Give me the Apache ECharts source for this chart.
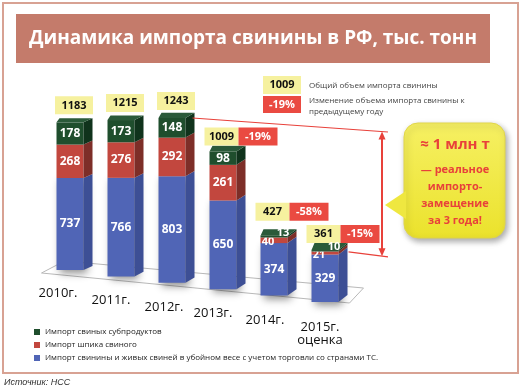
<!DOCTYPE html>
<html><head><meta charset="utf-8">
<script src="https://cdn.jsdelivr.net/npm/echarts@6/dist/echarts.min.js"></script>
<style>html,body{margin:0;padding:0;background:#fff}#c{width:522px;height:389px}</style>
</head><body><div id="c"></div>
<script>
// ---- data ----
const categories = ['2010г.', '2011г.', '2012г.', '2013г.', '2014г.', '2015г.\nоценка'];
const porkLive = [737, 766, 803, 650, 374, 329];
const fatback = [268, 276, 292, 261, 40, 21];
const offal = [178, 173, 148, 98, 13, 10];
const totals = [1183, 1215, 1243, 1009, 427, 361];
const changes = [null, null, null, -19, -58, -15];
const seriesNames = [
  'Импорт свиных субпродуктов',
  'Импорт шпика свиного',
  'Импорт свинины и живых свиней в убойном весе с учетом торговли со странами ТС.'
];

// ---- style ----
const FONT = '"Open Sans", "DejaVu Sans", sans-serif';
const DY = 6.4, KBASE = 0.96, KSTEP = 0.03;   // pseudo-perspective
const BW = 27, DX = 9;
const dzOf = i => 4 + 0.6 * i;
const labelShift = [-12, -10, -8, -10, -9, -5];
const boxGap = [8, 8, 8, 6, 15, 7];
const layerStyle = [
  { front: '#5065b6', side: '#3d4f95', top: '#6275c2' },
  { front: '#c2473e', side: '#7d2e28', top: '#d05a50' },
  { front: '#1f4e2d', side: '#10331c', top: '#2a5a39' }
];

// build layer data [index, start, end, value]
const layerVals = [porkLive, fatback, offal];
const layerData = [[], [], []];
categories.forEach((c, i) => {
  let acc = 0;
  for (let L = 0; L < 3; L++) {
    const v = layerVals[L][i];
    layerData[L].push([i, acc, acc + v, v]);
    acc += v;
  }
});

function projY(baseY, cY, i) {
  const k = KBASE + KSTEP * i;
  return baseY + DY * i - (baseY - cY) * k;
}

function txt(text, x, y, fill, font, align) {
  return {
    type: 'text', z2: 10,
    style: {
      text: text, x: x, y: y, fill: fill, font: font,
      align: align || 'center', verticalAlign: 'middle',
      textAlign: align || 'center', textVerticalAlign: 'middle'
    }
  };
}

function makeRender(L) {
  return function (params, api) {
    const i = api.value(0), s = api.value(1), e = api.value(2), v = api.value(3);
    const b = api.coord([i, 0]);
    const cx = b[0];
    const yb = projY(b[1], api.coord([i, s])[1], i);
    const yt = projY(b[1], api.coord([i, e])[1], i);
    const x0 = cx - BW / 2;
    const DZ = dzOf(i);
    const st = layerStyle[L];
    const children = [];
    const front = {
      type: 'rect', shape: { x: x0, y: yt, width: BW, height: yb - yt },
      style: { fill: st.front }
    };
    if (L === 0) {
      front.style.shadowBlur = 8; front.style.shadowColor = 'rgba(0,0,0,0.45)';
      front.style.shadowOffsetX = 3; front.style.shadowOffsetY = 3;
    }
    children.push(front);
    children.push({
      type: 'polygon',
      shape: { points: [[x0 + BW, yt], [x0 + BW + DX, yt - DZ], [x0 + BW + DX, yb - DZ], [x0 + BW, yb]] },
      style: { fill: st.side }
    });
    if (L === 2) {
      children.push({
        type: 'polygon',
        shape: { points: [[x0, yt], [x0 + BW, yt], [x0 + BW + DX, yt - DZ], [x0 + 3, yt - DZ]] },
        style: { fill: st.top }
      });
    }
    const h = yb - yt;
    let lx = cx, ly = (yt + yb) / 2, fs = 12;
    if (h < 12) {
      fs = 11;
      if (L === 1) { lx = cx - 6; ly = (yt + yb) / 2 + 2; }
      if (L === 2) { lx = cx + 9; ly = yt - DZ / 2; }
    }
    children.push(txt(String(v), lx, ly, '#fff', 'bold ' + fs + 'px ' + FONT));
    if (L === 2) {
      const bh = 18, bb = yt - boxGap[i];
      const ch = changes[i];
      if (ch === null) {
        const w = 38, lx0 = cx + 4 - w / 2;
        children.push({ type: 'rect', shape: { x: lx0, y: bb - bh, width: w, height: bh }, style: { fill: '#f6f19f' } });
        children.push(txt(String(totals[i]), lx0 + w / 2, bb - bh / 2, '#111', 'bold 11px ' + FONT));
      } else {
        const w1 = 34, w2 = 39, lx0 = x0 - 5;
        children.push({ type: 'rect', shape: { x: lx0, y: bb - bh, width: w1, height: bh }, style: { fill: '#f6f19f' } });
        children.push(txt(String(totals[i]), lx0 + w1 / 2, bb - bh / 2, '#111', 'bold 11px ' + FONT));
        children.push({ type: 'rect', shape: { x: lx0 + w1, y: bb - bh, width: w2, height: bh }, style: { fill: '#ea4a41' } });
        children.push(txt(ch + '%', lx0 + w1 + w2 / 2, bb - bh / 2, '#fff', 'bold 11px ' + FONT));
      }
    }
    return { type: 'group', children: children };
  };
}

const chart = echarts.init(document.getElementById('c'), null, { renderer: 'canvas' });

const rich = {};
categories.forEach((c, i) => {
  rich['t' + i] = { padding: [DY * i * 1.05, -labelShift[i] * 2, 0, 0], fontSize: 13, color: '#111', fontFamily: FONT };
  rich['n' + i] = { padding: [0, -labelShift[i] * 2, 0, 0], fontSize: 13, color: '#111', fontFamily: FONT, lineHeight: 14 };
});

chart.setOption({
  animation: false,
  grid: { left: 44.5, right: 171.5, top: 62, bottom: 119 },
  xAxis: {
    type: 'category', data: categories,
    axisLine: { show: false }, axisTick: { show: false },
    axisLabel: {
      margin: 17, interval: 0,
      formatter: function (val, idx) {
        return val.split('\n').map((p, k) => '{' + (k === 0 ? 't' : 'n') + idx + '|' + p + '}').join('\n');
      },
      rich: rich
    }
  },
  yAxis: { type: 'value', min: 0, max: 1600, show: false },
  legend: {
    orient: 'vertical', left: 29, top: 323, itemGap: 5, itemWidth: 6, itemHeight: 6,
    icon: 'rect', textStyle: { fontSize: 8, color: '#222', fontFamily: FONT },
    data: [seriesNames[0], seriesNames[1], seriesNames[2]]
  },
  series: [
    { type: 'custom', name: seriesNames[2], renderItem: makeRender(0), data: layerData[0], itemStyle: { color: layerStyle[0].front }, z: 3 },
    { type: 'custom', name: seriesNames[1], renderItem: makeRender(1), data: layerData[1], itemStyle: { color: layerStyle[1].front }, z: 4 },
    { type: 'custom', name: seriesNames[0], renderItem: makeRender(2), data: layerData[2], itemStyle: { color: layerStyle[2].front }, z: 5 }
  ]
});

// ---- annotations computed from the scales ----
function barTop(i, v) {
  const b = chart.convertToPixel({ gridIndex: 0 }, [i, 0]);
  const c = chart.convertToPixel({ gridIndex: 0 }, [i, v]);
  return [b[0], projY(b[1], c[1], i)];
}
const p0 = barTop(0, 0), p5 = barTop(5, 0);
const x00 = p0[0] - BW / 2, x05 = p5[0] - BW / 2;
const t3 = barTop(2, totals[2]);
const t6 = barTop(5, totals[5]);
const RED = '#e8413a';
const ax = 382, lineEnd = 388;
const up0 = [t3[0] + BW / 2 + DX - 2, t3[1]], up1 = [lineEnd, t3[1] + 14];
const lo0 = [t6[0] + BW / 2 + DX + 1, t6[1] + 2], lo1 = [lineEnd, t6[1] + 7];
const yAt = (a, b, x) => a[1] + (b[1] - a[1]) * (x - a[0]) / (b[0] - a[0]);
const ya = yAt(up0, up1, ax), yb = yAt(lo0, lo1, ax);

function gtxt(text, x, y, fill, font, align, z) {
  return { type: 'text', z: z || 1, style: { text: text, x: x, y: y, fill: fill, font: font, align: align || 'center', verticalAlign: 'middle', textAlign: align || 'center', textVerticalAlign: 'middle' } };
}
const bubbleFill = { type: 'linear', x: 0, y: 0, x2: 0, y2: 1, colorStops: [{ offset: 0, color: '#f6f063' }, { offset: 1, color: '#ebe22c' }] };

const graphics = [
  { type: 'rect', z: -10, shape: { x: 3, y: 3, width: 515, height: 370 }, style: { fill: 'none', stroke: '#d8a293', lineWidth: 2 } },
  { type: 'rect', shape: { x: 16, y: 14, width: 474, height: 49 }, style: { fill: '#c47b6b' } },
  gtxt('Динамика импорта свинины в РФ, тыс. тонн', 253, 39, '#fff', 'bold 19px ' + FONT),
  // floor
  { type: 'polygon', z: 0, shape: { points: [[x00 - 15, p0[1] + 3], [x00 + 8, p0[1] - 9], [x05 + 52, p5[1] - 14], [x05 + 38, p5[1] + 1]] }, style: { fill: '#fff', stroke: '#b8b8b8', lineWidth: 1 } },
  // explanation legend
  { type: 'rect', shape: { x: 263, y: 76, width: 38, height: 18 }, style: { fill: '#f6f19f' } },
  gtxt('1009', 282, 85, '#111', 'bold 11px ' + FONT),
  { type: 'rect', shape: { x: 263, y: 96, width: 38, height: 17 }, style: { fill: '#ea4a41' } },
  gtxt('-19%', 282, 104.5, '#fff', 'bold 11px ' + FONT),
  gtxt('Общий объем импорта свинины', 309, 86, '#444', '8px ' + FONT, 'left'),
  gtxt('Изменение объема импорта свинины к', 309, 101, '#444', '8px ' + FONT, 'left'),
  gtxt('предыдущему году', 309, 112, '#444', '8px ' + FONT, 'left'),
  // red guide lines and arrow
  { type: 'line', z: 20, shape: { x1: up0[0], y1: up0[1], x2: up1[0], y2: up1[1] }, style: { stroke: RED, lineWidth: 1.2 } },
  { type: 'line', z: 20, shape: { x1: lo0[0], y1: lo0[1], x2: lo1[0], y2: lo1[1] }, style: { stroke: RED, lineWidth: 1.2 } },
  { type: 'line', z: 20, shape: { x1: ax, y1: ya + 5, x2: ax, y2: yb - 5 }, style: { stroke: RED, lineWidth: 2 } },
  { type: 'polygon', z: 20, shape: { points: [[ax, ya], [ax - 3.5, ya + 8], [ax + 3.5, ya + 8]] }, style: { fill: RED } },
  { type: 'polygon', z: 20, shape: { points: [[ax, yb], [ax - 3.5, yb - 8], [ax + 3.5, yb - 8]] }, style: { fill: RED } },
  // callout bubble
  { type: 'rect', z: 15, shape: { x: 404, y: 123, width: 101, height: 115, r: 14 },
    style: { fill: bubbleFill, stroke: '#e0d54a', lineWidth: 1, shadowBlur: 6, shadowColor: 'rgba(0,0,0,0.35)', shadowOffsetX: 2, shadowOffsetY: 3 } },
  { type: 'polygon', z: 16, shape: { points: [[406, 191], [385, 205], [406, 219]] },
    style: { fill: '#efe740' } },
  gtxt('≈ 1 млн т', 455, 145, RED, 'bold 15px ' + FONT, 'center', 17),
  gtxt('— реальное', 455, 170, RED, 'bold 11px ' + FONT, 'center', 17),
  gtxt('импорто-', 455, 187, RED, 'bold 11px ' + FONT, 'center', 17),
  gtxt('замещение', 455, 204, RED, 'bold 11px ' + FONT, 'center', 17),
  gtxt('за 3 года!', 455, 221, RED, 'bold 11px ' + FONT, 'center', 17),
  // source
  gtxt('Источник: НСС', 4, 382, '#333', 'italic 9px "Liberation Sans Narrow", "Liberation Sans", sans-serif', 'left')
];
chart.setOption({ graphic: graphics });
</script>
</body></html>
